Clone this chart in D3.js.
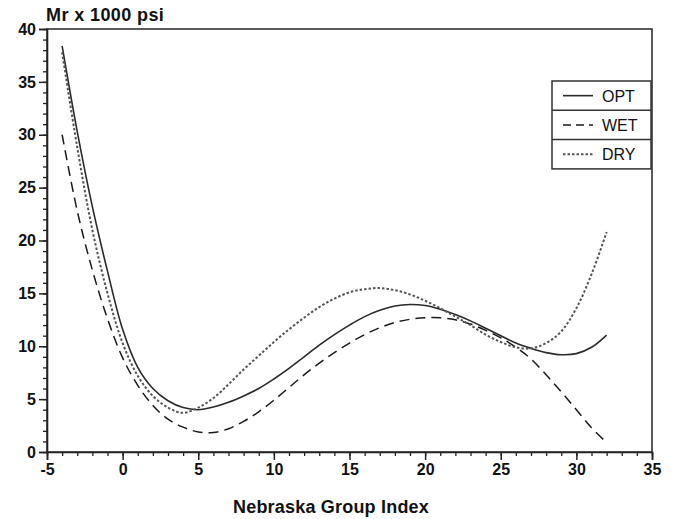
<!DOCTYPE html>
<html><head><meta charset="utf-8">
<script src="https://cdn.jsdelivr.net/npm/d3@7"></script>
<style>
html,body{margin:0;padding:0;background:#fff;}
svg{display:block;font-family:"Liberation Sans",Arial,Helvetica,sans-serif;}
</style></head>
<body>
<script>
// ---- data ----
const gi = [-4, -3, -2, -1, 0, 1, 2, 3, 4, 5, 6, 7, 8, 9, 10, 11, 12, 13, 14, 15, 16, 17, 18, 19, 20, 21, 22, 23, 24, 25, 26, 27, 28, 29, 30, 31, 32];
const optMr = [38.4, 30.3, 23.2, 17.1, 11.6, 8.0, 6.0, 4.85, 4.2, 4.0, 4.25, 4.7, 5.3, 6.0, 6.9, 7.9, 9.0, 10.1, 11.1, 12.0, 12.8, 13.4, 13.8, 13.95, 13.85, 13.5, 13.0, 12.4, 11.7, 11.0, 10.3, 9.8, 9.4, 9.2, 9.3, 9.9, 11.06];
const wetMr = [30.0, 22.8, 17.2, 12.6, 8.9, 6.3, 4.4, 3.1, 2.35, 1.9, 1.85, 2.2, 2.9, 3.8, 4.9, 6.1, 7.3, 8.4, 9.4, 10.3, 11.1, 11.75, 12.25, 12.55, 12.7, 12.7, 12.5, 12.1, 11.5, 10.8, 9.9, 8.8, 7.3, 5.7, 4.0, 2.3, 0.9];
const dryMr = [37.8, 28.8, 21.0, 15.0, 10.3, 7.2, 5.3, 4.2, 3.7, 4.2, 5.1, 6.4, 7.8, 9.1, 10.4, 11.6, 12.7, 13.7, 14.5, 15.1, 15.4, 15.5, 15.3, 14.9, 14.3, 13.6, 12.8, 12.0, 11.1, 10.4, 9.9, 9.8, 10.3, 11.4, 13.6, 16.8, 20.8];
const seriesNames = ["OPT", "WET", "DRY"];
const xTicks = [-5, 0, 5, 10, 15, 20, 25, 30, 35];
const yTicks = [0, 5, 10, 15, 20, 25, 30, 35, 40];
const xTitle = "Nebraska Group Index";
const yTitle = "Mr x 1000 psi";

const W = 674, H = 519;
const L = 47, R = 652, T = 29, B = 452;

const svg = d3.select("body").append("svg").attr("width", W).attr("height", H);
const x = d3.scaleLinear().domain([-5, 35]).range([L, R]);
const y = d3.scaleLinear().domain([0, 40]).range([B, T]);

const ink = "#222";

// frame
svg.append("rect").attr("x", L).attr("y", T).attr("width", R - L).attr("height", B - T)
  .attr("fill", "none").attr("stroke", "#333").attr("stroke-width", 1.6);

// x axis minor + major ticks
const xMinor = d3.range(-5, 35.01, 1);
svg.append("g").attr("transform", `translate(0,${B})`)
  .call(d3.axisBottom(x).tickValues(xMinor).tickSize(4).tickFormat(""))
  .call(g => { g.select(".domain").remove(); g.selectAll("line").attr("stroke", ink).attr("stroke-width", 1.3); });
svg.append("g").attr("transform", `translate(0,${B})`)
  .call(d3.axisBottom(x).tickValues(xTicks).tickSize(8).tickPadding(4).tickFormat(d3.format("d")))
  .call(g => {
    g.select(".domain").attr("stroke", ink).attr("stroke-width", 1.6);
    g.selectAll("line").attr("stroke", ink).attr("stroke-width", 1.5);
    g.selectAll("text").attr("font-size", 16).attr("font-weight", "bold").attr("fill", "#111")
      .attr("font-family", "'Liberation Sans',Arial,sans-serif").text(d => d < 0 ? "-" + Math.abs(d) : d);
  });

// y axis
const yMinor = d3.range(0, 40.01, 1);
svg.append("g").attr("transform", `translate(${L},0)`)
  .call(d3.axisLeft(y).tickValues(yMinor).tickSize(4).tickFormat(""))
  .call(g => { g.select(".domain").remove(); g.selectAll("line").attr("stroke", ink).attr("stroke-width", 1.3); });
svg.append("g").attr("transform", `translate(${L},0)`)
  .call(d3.axisLeft(y).tickValues(yTicks).tickSize(8).tickPadding(3).tickFormat(d3.format("d")))
  .call(g => {
    g.select(".domain").attr("stroke", ink).attr("stroke-width", 1.6);
    g.selectAll("line").attr("stroke", ink).attr("stroke-width", 1.5);
    g.selectAll("text").attr("font-size", 16).attr("font-weight", "bold").attr("fill", "#111")
      .attr("font-family", "'Liberation Sans',Arial,sans-serif");
  });

// titles
svg.append("text").attr("x", L - 1).attr("y", 21).attr("font-size", 18).attr("font-weight", "bold")
  .attr("letter-spacing", 0.4).attr("fill", "#111").text(yTitle);
svg.append("text").attr("x", 331).attr("y", 513).attr("text-anchor", "middle").attr("font-size", 18)
  .attr("font-weight", "bold").attr("letter-spacing", 0.2).attr("fill", "#111").text(xTitle);

// curves
const line = d3.line().x(d => x(d[0])).y(d => y(d[1])).curve(d3.curveCatmullRom.alpha(0.5));
const styles = [
  {dash: null, color: "#2a2a2a", w: 1.6},
  {dash: "10,6", color: "#1a1a1a", w: 1.5},
  {dash: "2.5,2", color: "#555", w: 2}
];
const series = [d3.zip(gi, optMr), d3.zip(gi, wetMr), d3.zip(gi, dryMr)];
series.forEach((s, i) => {
  svg.append("path").datum(s).attr("d", line).attr("fill", "none")
    .attr("stroke", styles[i].color).attr("stroke-width", styles[i].w)
    .attr("stroke-dasharray", styles[i].dash);
});

// legend
const lgX = 552, lgY = 81, lgW = 99, rowH = 29.3;
const lg = svg.append("g");
lg.append("rect").attr("x", lgX).attr("y", lgY).attr("width", lgW).attr("height", rowH * 3)
  .attr("fill", "#fff").attr("stroke", "#333").attr("stroke-width", 1.5);
seriesNames.forEach((n, i) => {
  const cy = lgY + rowH * i + rowH / 2;
  if (i > 0) lg.append("line").attr("x1", lgX).attr("x2", lgX + lgW).attr("y1", lgY + rowH * i).attr("y2", lgY + rowH * i)
    .attr("stroke", "#333").attr("stroke-width", 1.5);
  lg.append("line").attr("x1", 563).attr("x2", 593).attr("y1", cy).attr("y2", cy)
    .attr("stroke", styles[i].color).attr("stroke-width", styles[i].w)
    .attr("stroke-dasharray", i === 1 ? "8,5" : styles[i].dash);
  lg.append("text").attr("x", 602).attr("y", cy + 6).attr("font-size", 16).attr("fill", "#111").text(n);
});
</script>
</body></html>
